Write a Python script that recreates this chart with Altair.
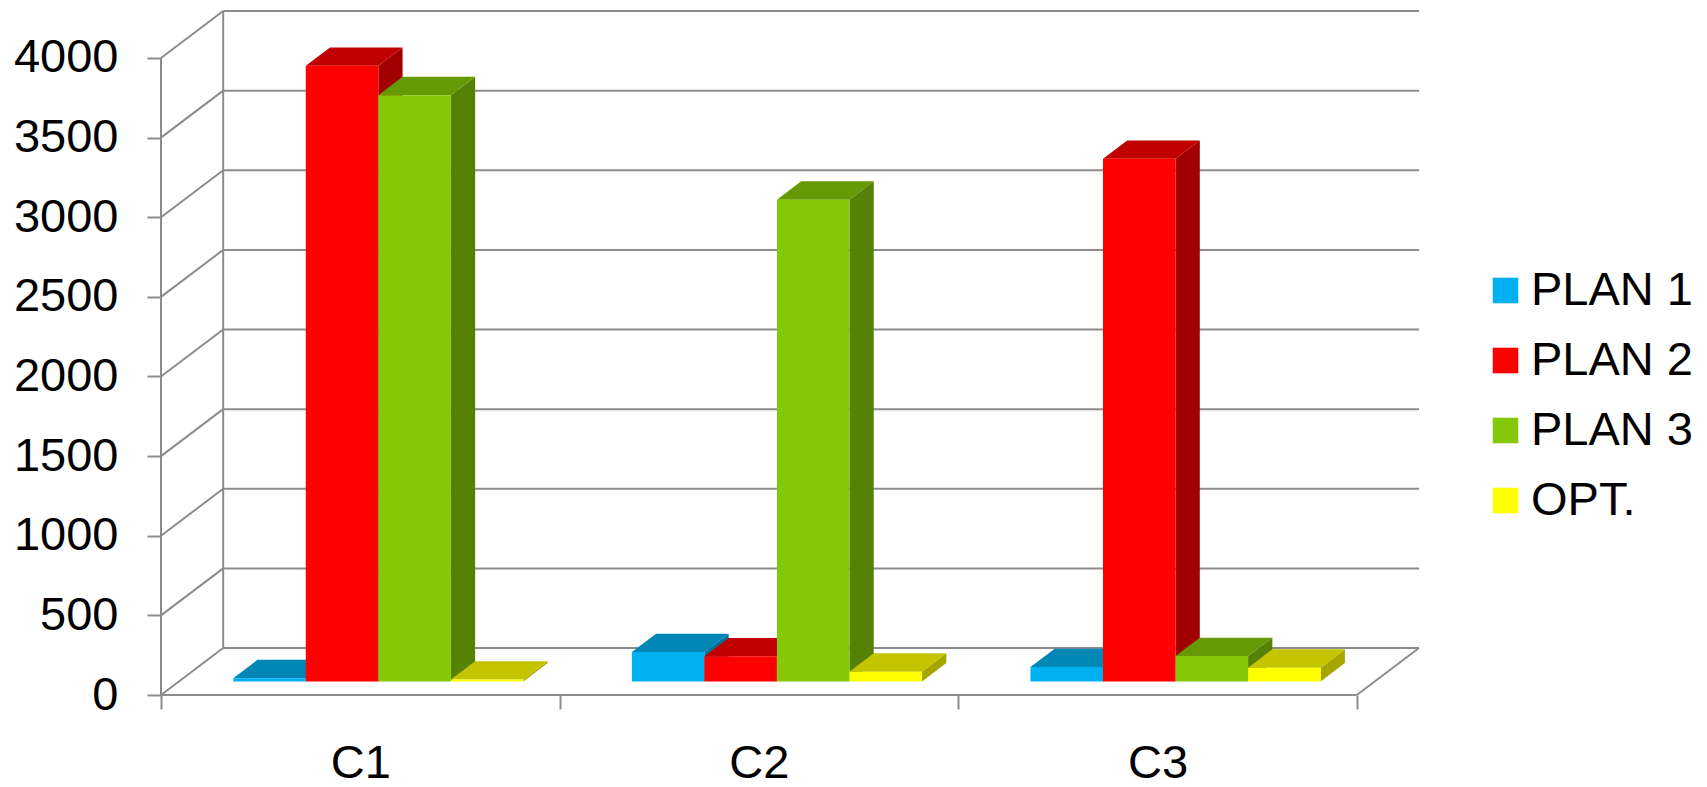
import altair as alt
import pandas as pd

# ---------------- data ----------------
CATEGORIES = ["C1", "C2", "C3"]
SERIES = ["PLAN 1", "PLAN 2", "PLAN 3", "OPT."]
PLAN1 = [20, 184, 90]
PLAN2 = [3865, 157, 3281]
PLAN3 = [3681, 3025, 159]
OPT = [12, 61, 86]
VALUES = [PLAN1, PLAN2, PLAN3, OPT]
Y_TICKS = [0, 500, 1000, 1500, 2000, 2500, 3000, 3500, 4000]

# ---------------- styles ----------------
FRONT = ["#00B0F0", "#FF0000", "#84C807", "#FFFF00"]
TOP = ["#0087B6", "#C00000", "#659A05", "#C4C400"]
SIDE = ["#00729C", "#A00000", "#558204", "#A6A600"]
GRID = "#8c8c8c"
FONT = "Liberation Sans"
FS = 47
LEGEND_FS = 47

# ---------------- 3D geometry (in scale units) ----------------
N = len(CATEGORIES)
YMAX = max(Y_TICKS)
DX = 0.156       # wall depth along x (category units)
DY = 295         # wall depth along y (value units)
F0, F1 = 0.29, 0.68   # bar front / back depth fractions
BAR_W = 0.182
GROUP_OFF = (1 - len(SERIES) * BAR_W) / 2

x_scale = alt.Scale(domain=[0, N + DX], nice=False, zero=False)
y_scale = alt.Scale(domain=[0, YMAX + DY], nice=False, zero=False)

# walls / gridlines
rules = []
for v in Y_TICKS:
    rules.append(dict(x=DX, x2=N + DX, y=v + DY, y2=v + DY))
    rules.append(dict(x=0, x2=DX, y=v, y2=v + DY))
rules.append(dict(x=DX, x2=DX, y=DY, y2=YMAX + DY))
rules.append(dict(x=0, x2=0, y=0, y2=YMAX))
rules.append(dict(x=0, x2=N, y=0, y2=0))
rules.append(dict(x=N, x2=N + DX, y=0, y2=DY))
walls_df = pd.DataFrame(rules)

label_expr = "[" + ",".join("'%s'" % c for c in CATEGORIES) + "][floor(datum.value)]"
x_axis = alt.Axis(
    values=[i * 0.5 for i in range(2 * N + 1)],
    labelExpr="datum.value % 1 == 0 ? '' : " + label_expr,
    tickOpacity={"condition": {"test": "datum.value % 1 == 0", "value": 1}, "value": 0},
    tickSize=14, tickWidth=2, tickColor=GRID, domain=False, grid=False,
    labelFont=FONT, labelFontSize=FS, labelColor="black", labelPadding=31,
    title=None, labelAngle=0,
)
y_axis = alt.Axis(
    values=Y_TICKS, format="d", tickSize=14, tickWidth=2, tickColor=GRID,
    domain=False, grid=False, labelFont=FONT, labelFontSize=FS,
    labelColor="black", labelPadding=29, title=None,
)

walls = alt.Chart(walls_df).mark_rule(color=GRID, strokeWidth=2).encode(
    x=alt.X("x:Q", scale=x_scale, axis=x_axis),
    x2="x2:Q",
    y=alt.Y("y:Q", scale=y_scale, axis=y_axis),
    y2="y2:Q",
)

legend = alt.Legend(
    orient="none", legendX=1321, legendY=256, title=None,
    symbolType="square", symbolSize=655, symbolStrokeWidth=0, symbolOpacity=1,
    labelFont=FONT, labelFontSize=LEGEND_FS, labelColor="black", labelOffset=2,
    labelLimit=0, rowPadding=22, padding=0, symbolOffset=0,
)

layers = [walls]
for i, (name, vals) in enumerate(zip(SERIES, VALUES)):
    side_rows, top_rows, front_rows = [], [], []
    for c, v in enumerate(vals):
        x0 = c + GROUP_OFF + i * BAR_W
        x1 = x0 + BAR_W
        for f in (F0, F1):
            side_rows.append(dict(cat=c, x=x1 + f * DX, y=v + f * DY, y2=f * DY))
            top_rows.append(dict(cat=c, y=v + f * DY, x=x0 + f * DX, x2=x1 + f * DX))
        front_rows.append(dict(cat=c, series=name, x=x0 + F0 * DX, x2=x1 + F0 * DX,
                               y=F0 * DY, y2=v + F0 * DY))
    side = alt.Chart(pd.DataFrame(side_rows)).mark_area(
        orient="vertical", color=SIDE[i]).encode(
        x=alt.X("x:Q", scale=x_scale, axis=x_axis),
        y=alt.Y("y:Q", scale=y_scale, axis=y_axis),
        y2="y2:Q",
        detail="cat:N",
    )
    top = alt.Chart(pd.DataFrame(top_rows)).mark_area(
        orient="horizontal", color=TOP[i]).encode(
        y=alt.Y("y:Q", scale=y_scale, axis=y_axis),
        x=alt.X("x:Q", scale=x_scale, axis=x_axis),
        x2="x2:Q",
        detail="cat:N",
    )
    front = alt.Chart(pd.DataFrame(front_rows)).mark_rect().encode(
        x=alt.X("x:Q", scale=x_scale, axis=x_axis),
        x2="x2:Q",
        y=alt.Y("y:Q", scale=y_scale, axis=y_axis),
        y2="y2:Q",
        color=alt.Color("series:N", scale=alt.Scale(domain=SERIES, range=FRONT),
                        legend=legend),
    )
    layers += [side, top, front]

chart = alt.layer(*layers).properties(
    width=1258, height=684,
    autosize=alt.AutoSizeParams(type="none"),
    padding={"left": 161, "top": 11, "right": 288, "bottom": 92},
    background="white",
).configure_view(stroke=None)

chart.save("out.html", embed_options={"renderer": "svg", "actions": False})
